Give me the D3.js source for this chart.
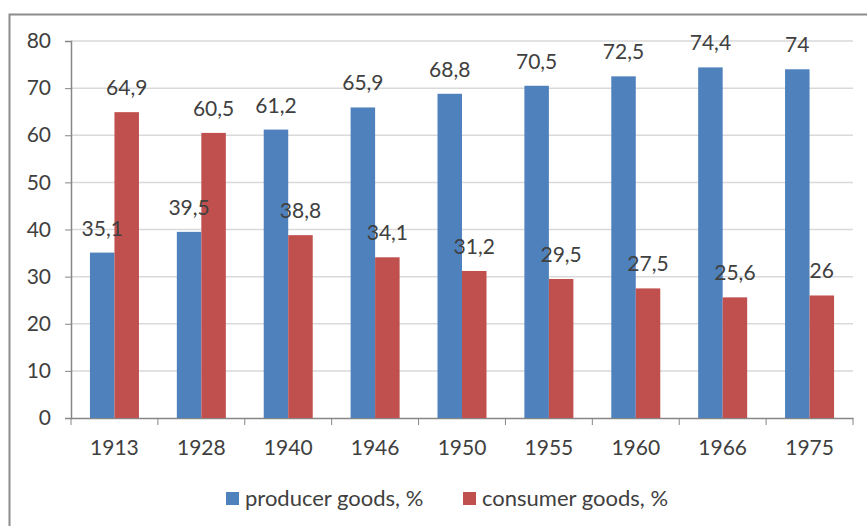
<!DOCTYPE html>
<html>
<head>
<meta charset="utf-8">
<script src="https://cdn.jsdelivr.net/npm/d3@7"></script>
<style>
  body{margin:0;background:#fff;}
  svg text{font-family:Lato,"Open Sans",sans-serif;fill:#404040;}
</style>
</head>
<body>
<svg id="chart" width="867" height="526"></svg>
<script>
var years = ["1913","1928","1940","1946","1950","1955","1960","1966","1975"];
var producer = [35.1,39.5,61.2,65.9,68.8,70.5,72.5,74.4,74];
var consumer = [64.9,60.5,38.8,34.1,31.2,29.5,27.5,25.6,26];
var yTicks = [0,10,20,30,40,50,60,70,80];
var seriesNames = ["producer goods, %","consumer goods, %"];
var colors = ["#4f81bd","#c0504d"];

var svg = d3.select("#chart");
// outer frame
svg.append("rect")
    .attr("x",9.5).attr("y",14.5)
    .attr("width",870).attr("height",520)
    .attr("fill","none")
    .attr("stroke","#8c8c8c")
    .attr("stroke-width",2);

var padLeft = 71, padRight = 853, padTop = 41, padBottom = 418;
var x = d3.scaleBand().domain(years).range([padLeft,padRight]);
var y = d3.scaleLinear().domain([0,80]).range([padBottom,padTop]);
var barW = 24.5;

// gridlines
svg.append("g").selectAll("line")
    .data(yTicks.slice(1))
    .join("line")
    .attr("x1",padLeft).attr("x2",padRight)
    .attr("y1",function(d){return y(d);})
    .attr("y2",function(d){return y(d);})
    .attr("stroke","#d9d9d9")
    .attr("stroke-width",1.5);

var yAxis = svg.append("g")
    .attr("transform","translate("+padLeft+",0)")
    .call(d3.axisLeft(y).tickValues(yTicks).tickSize(6).tickPadding(14));
yAxis.selectAll("text").style("font-size","21px");

var xAxis = svg.append("g")
    .attr("transform","translate(0,"+padBottom+")")
    .call(d3.axisBottom(x).tickSize(0).tickPadding(22));
xAxis.selectAll("text").style("font-size","21px");
// category boundary ticks
xAxis.selectAll(".sep")
    .data(years.concat(["end"]))
    .join("line")
    .attr("class","sep")
    .attr("x1",function(d,i){return padLeft+i*x.step();})
    .attr("x2",function(d,i){return padLeft+i*x.step();})
    .attr("y1",0).attr("y2",7)
    .attr("stroke","#868686");

[yAxis,xAxis].forEach(function(a){
    a.selectAll(".domain").attr("stroke","#868686").attr("stroke-width",1.5);
    a.selectAll(".tick line").attr("stroke","#868686");
});

var series = [producer,consumer];
var barLayer = svg.append("g");
var labelLayer = svg.append("g");
series.forEach(function(vals,s){
    barLayer.append("g").selectAll("rect")
        .data(vals)
        .join("rect")
        .attr("x",function(d,i){return x(years[i])+x.bandwidth()/2-barW+s*barW;})
        .attr("y",function(d){return y(d);})
        .attr("width",barW)
        .attr("height",function(d){return padBottom-y(d);})
        .attr("fill",colors[s]);
    labelLayer.append("g").selectAll("text")
        .data(vals)
        .join("text")
        .attr("x",function(d,i){return x(years[i])+x.bandwidth()/2-barW/2+s*barW;})
        .attr("y",function(d){return y(d)-17;})
        .attr("text-anchor","middle")
        .style("font-size","21px")
        .text(function(d){return String(d).replace(".",",");});
});

// legend
var legend = svg.append("g");
var legX = [226,463];
seriesNames.forEach(function(n,i){
    legend.append("rect")
        .attr("x",legX[i]).attr("y",492)
        .attr("width",13).attr("height",13)
        .attr("fill",colors[i]);
    legend.append("text")
        .attr("x",legX[i]+19).attr("y",506)
        .style("font-size","22px")
        .text(n);
});
</script>
</body>
</html>
